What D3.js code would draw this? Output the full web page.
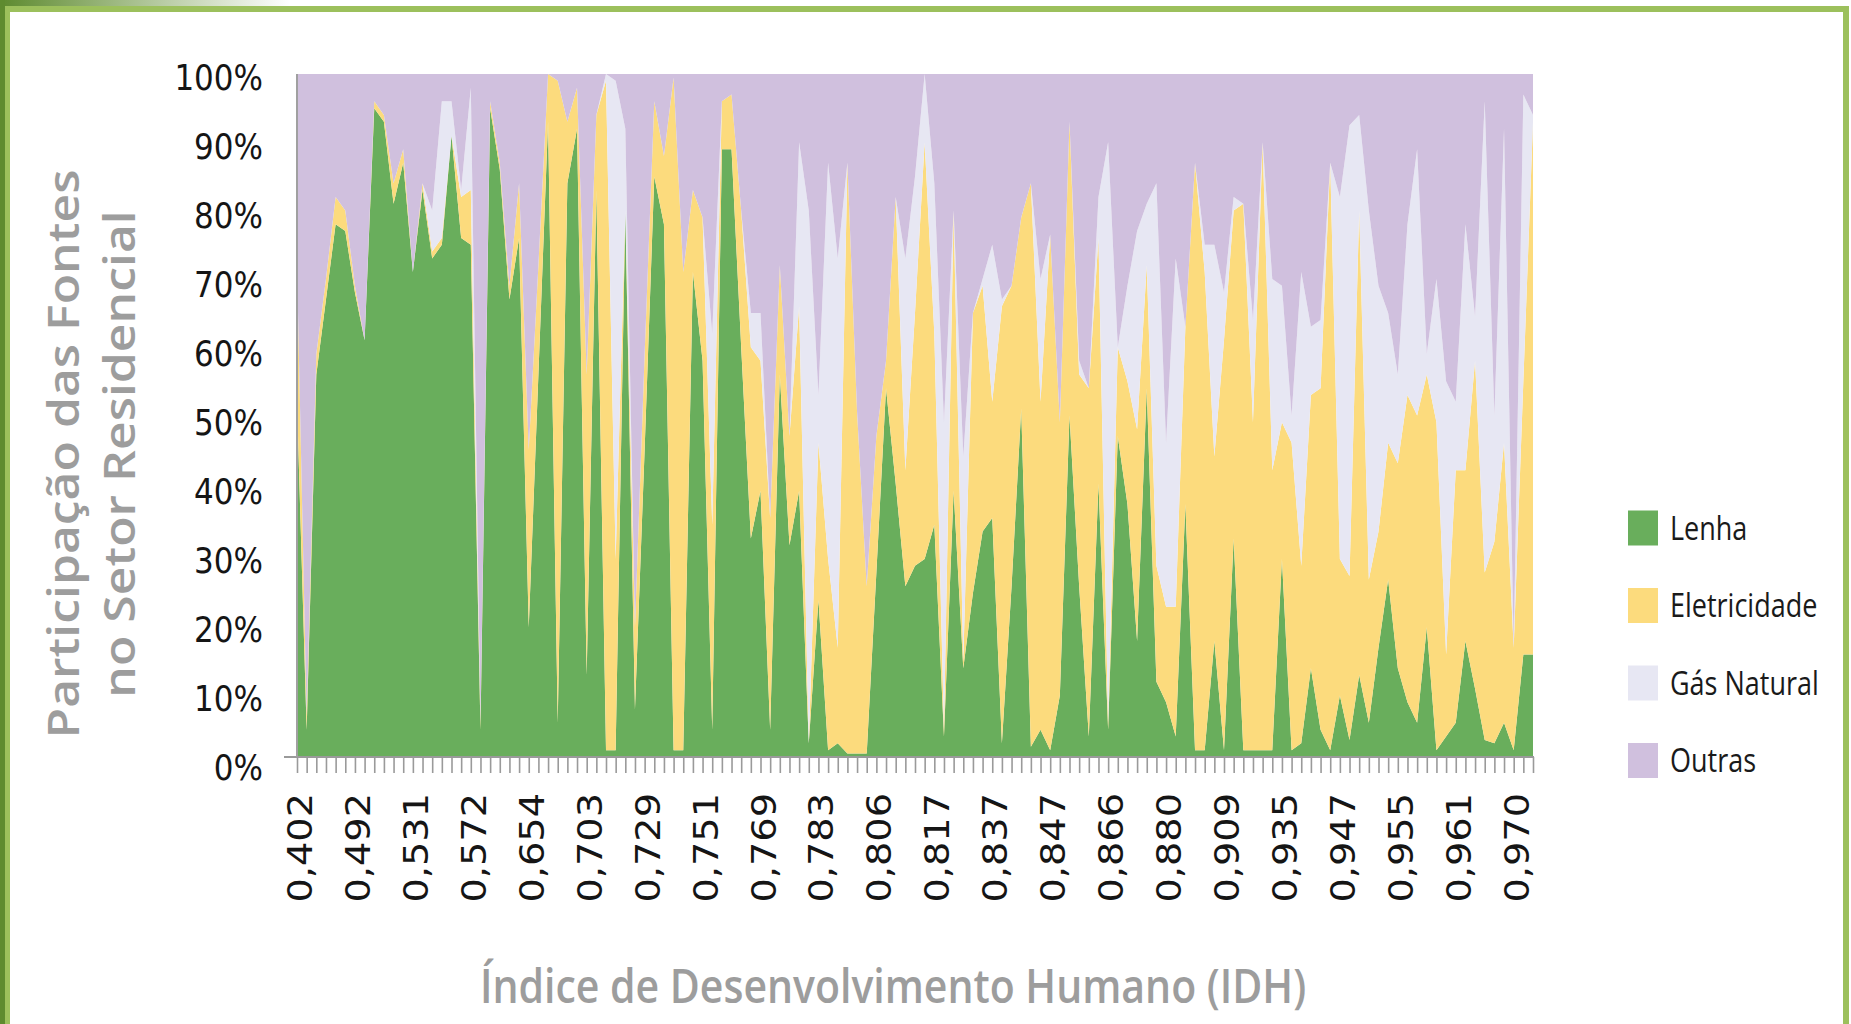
<!DOCTYPE html>
<html lang="pt">
<head>
<meta charset="utf-8">
<script src="https://cdn.jsdelivr.net/npm/d3@7"></script>
<style>
  body { margin: 0; background: #fff; }
  svg { display: block; }
</style>
</head>
<body>
<div id="chart"></div>
<script>
// Participação (%) de cada fonte no setor residencial, países ordenados pelo IDH
var lenha = [
  52, 4, 56, 67, 78, 77, 68, 61, 95, 93,
  81, 87, 71, 83, 73, 75, 91, 76, 75, 4,
  95, 86, 67, 76, 19, 56, 93, 5, 84, 92,
  12, 83, 1, 1, 80, 7, 45, 85, 78, 1,
  1, 71, 58, 4, 89, 89, 60, 32, 39, 4,
  56, 31, 39, 2, 23, 1, 2, 0.5, 0.5, 0.5,
  27, 54, 40, 25, 28, 29, 34, 3, 39, 13, 24,
  33, 35, 2, 25, 51, 1.5, 4, 1, 9, 50,
  25, 3, 40, 4, 47, 37, 17, 54, 11, 8,
  3, 37, 1, 1, 17, 1, 32, 1, 1, 1,
  1, 29, 1, 2, 13, 4, 1, 9, 2.5, 12,
  5, 16, 26, 13, 8, 5, 19, 1, 3,
  5, 17, 10, 2.5, 2, 5, 1, 15, 15
];
var eletricidade = [
  20, 2, 3, 3, 4, 3, 1, 0, 1, 1,
  3, 2, 0, 1, 1, 1, 0, 6, 8, 1,
  1, 1, 2, 8, 26, 16, 7, 94, 9, 6,
  44, 11, 98, 28, 0, 12, 14, 11, 10, 98.5,
  70, 12, 21, 30, 7, 8, 20, 28, 19, 31,
  16, 16, 27, 0, 23, 28, 14, 86.5, 50, 24.5,
  20, 4, 42, 17, 37, 61, 28, 1, 41, 1, 41,
  36, 17, 64, 44, 28, 82.5, 48, 75.5, 40, 43,
  31, 51, 36, 1, 13, 18, 31, 18, 17, 14,
  19, 26, 86, 70, 27, 60, 48, 80, 48, 89,
  41, 20, 45, 26, 40, 50, 86, 20, 24, 68,
  21, 17, 20, 30, 45, 45, 37, 48, 12,
  37, 25, 48, 24.5, 29.5, 41, 15, 40, 78
];
var gasNatural = [
  0, 0, 0, 0, 0, 0, 0, 0, 0, 0,
  0, 0, 0, 0, 6, 20, 5, 1, 15, 0,
  0, 0, 0, 0, 0, 0, 0, 0, 0, 0,
  0, 0, 1, 70, 12, 0, 0, 0, 0, 0,
  0, 0, 0, 28, 0, 0, 0, 5, 7, 0,
  0, 0, 24, 78, 7, 58, 57, 0, 0, 0,
  0, 0, 0, 31, 20, 10, 22, 45, 0, 30, 0,
  1, 23, 1, 0, 0, 0, 18, 0, 0, 0,
  2, 0, 6, 85, 0, 14, 29, 9, 56, 24,
  51, 0, 0, 4, 31, 7, 2, 0, 15, 0,
  28, 20, 4, 43, 10, 10, 0, 53, 66, 14,
  54, 36, 19, 13, 25, 39, 3, 21, 40,
  10, 36, 6.5, 69, 18.5, 46, 0, 42, 1
];

// rótulos do eixo x: um a cada 6 países
var idhLabels = ["0,402", "0,492", "0,531", "0,572", "0,654", "0,703", "0,729", "0,751",
  "0,769", "0,783", "0,806", "0,817", "0,837", "0,847", "0,866", "0,880",
  "0,909", "0,935", "0,947", "0,955", "0,961", "0,970"];
var labelStep = 6;

var series = ["Lenha", "Eletricidade", "Gás Natural", "Outras"];
var colors = ["#69ae5c", "#fcdb7d", "#e7e7f3", "#d0c0de"];
var yTicks = [0, 10, 20, 30, 40, 50, 60, 70, 80, 90, 100];

var svgWidth = 1851;
var svgHeight = 1024;
var margin = {top: 74, right: 318, bottom: 267, left: 297};
var width = svgWidth - margin.left - margin.right;
var height = svgHeight - margin.top - margin.bottom;
var stretch = 1.16; // o texto do original é um pouco esticado na vertical

var svg = d3.select("#chart")
  .append("svg")
  .attr("width", svgWidth)
  .attr("height", svgHeight);

// moldura verde
var defs = svg.append("defs");
var fade = defs.append("linearGradient").attr("id", "topFade").attr("x1", 0).attr("x2", 1);
fade.append("stop").attr("offset", 0).attr("stop-color", "#5d8a2e");
fade.append("stop").attr("offset", 1).attr("stop-color", "#ffffff");
svg.append("rect").attr("x", 0).attr("y", 0).attr("width", 290).attr("height", 6).attr("fill", "url(#topFade)");
svg.append("rect").attr("x", 0).attr("y", 6).attr("width", 1849).attr("height", 6).attr("fill", "#9cc05c");
svg.append("rect").attr("x", 0).attr("y", 0).attr("width", 5).attr("height", svgHeight).attr("fill", "#5e8b2f");
svg.append("rect").attr("x", 5).attr("y", 6).attr("width", 5).attr("height", svgHeight).attr("fill", "#9cc05c");
svg.append("rect").attr("x", 1843).attr("y", 6).attr("width", 6).attr("height", svgHeight).attr("fill", "#9cc05c");

var chartGroup = svg.append("g")
  .attr("transform", `translate(${margin.left}, ${margin.top})`);

// tabela empilhada (100%)
var rows = lenha.map(function(v, i) {
  return {
    i: i,
    "Lenha": v,
    "Eletricidade": eletricidade[i],
    "Gás Natural": gasNatural[i],
    "Outras": Math.max(0, 100 - v - eletricidade[i] - gasNatural[i])
  };
});
var layers = d3.stack().keys(series)(rows);

var xScale = d3.scalePoint()
  .domain(d3.range(rows.length))
  .range([0, width]);
var yScale = d3.scaleLinear()
  .domain([0, 100])
  .range([height, 0]);
// os rótulos do eixo y ficam um pouco abaixo das marcas no original
var yLabelScale = d3.scaleLinear()
  .domain([0, 100])
  .range([height + 10, 3]);

var area = d3.area()
  .x(d => xScale(d.data.i))
  .y0(d => yScale(d[0]))
  .y1(d => yScale(d[1]));

chartGroup.selectAll(".layer")
  .data(layers)
  .enter()
  .append("path")
  .attr("class", "layer")
  .attr("d", area)
  .attr("fill", (d, i) => colors[i]);

// eixo x
var bottomAxis = d3.axisBottom(xScale)
  .tickSize(16)
  .tickSizeOuter(0)
  .tickFormat(d => d % labelStep === 0 ? idhLabels[d / labelStep] : "");

var xAxisG = chartGroup.append("g")
  .attr("transform", `translate(0, ${height})`)
  .call(bottomAxis);
xAxisG.select(".domain").remove();
xAxisG.selectAll(".tick line")
  .attr("stroke", "#9a9a9a")
  .attr("stroke-width", 1.6);
xAxisG.selectAll(".tick text")
  .attr("x", 0)
  .attr("y", 0)
  .attr("dy", "0.35em")
  .attr("transform", `translate(3, 36) scale(1, ${stretch}) rotate(-90)`)
  .style("text-anchor", "end")
  .style("font-family", "'DejaVu Sans', Verdana, sans-serif")
  .style("font-size", "33px")
  .attr("fill", "#151515");

chartGroup.append("line")
  .attr("x1", -13).attr("x2", width + 1)
  .attr("y1", height).attr("y2", height)
  .attr("stroke", "#9a9a9a")
  .attr("stroke-width", 2);

// eixo y
chartGroup.append("line")
  .attr("x1", 0).attr("x2", 0)
  .attr("y1", 0).attr("y2", height)
  .attr("stroke", "#a0a0a0")
  .attr("stroke-width", 2);

chartGroup.selectAll(".ylabel")
  .data(yTicks)
  .enter()
  .append("text")
  .attr("class", "ylabel")
  .attr("transform", d => `translate(-34, ${yLabelScale(d)}) scale(1, ${stretch})`)
  .attr("dy", "0.36em")
  .style("text-anchor", "end")
  .style("font-family", "'DejaVu Sans', Verdana, sans-serif")
  .style("font-size", "31px")
  .attr("fill", "#151515")
  .text(d => d + "%");

// títulos dos eixos
var titleFont = "'Open Sans', 'Noto Sans', sans-serif";
svg.append("text")
  .attr("transform", `translate(67, 454) scale(1, ${stretch}) rotate(-90)`)
  .attr("dy", "0.28em")
  .style("text-anchor", "middle")
  .style("font-family", titleFont)
  .style("font-weight", 600)
  .style("font-size", "43px")
  .attr("fill", "#9d9d9d")
  .text("Participação das Fontes");

svg.append("text")
  .attr("transform", `translate(120, 454) scale(1, ${stretch}) rotate(-90)`)
  .attr("dy", "0.36em")
  .style("text-anchor", "middle")
  .style("font-family", titleFont)
  .style("font-weight", 600)
  .style("font-size", "43px")
  .attr("fill", "#9d9d9d")
  .text("no Setor Residencial");

svg.append("text")
  .attr("transform", `translate(893, 1003) scale(1, ${stretch})`)
  .style("text-anchor", "middle")
  .style("font-family", titleFont)
  .style("font-weight", 600)
  .style("font-size", "41px")
  .attr("fill", "#9d9d9d")
  .text("Índice de Desenvolvimento Humano (IDH)");

// legenda
var legend = svg.append("g")
  .attr("transform", "translate(1628, 528)");

var legendItem = legend.selectAll(".legend-item")
  .data(series)
  .enter()
  .append("g")
  .attr("class", "legend-item")
  .attr("transform", (d, i) => `translate(0, ${i * 77.5})`);

legendItem.append("rect")
  .attr("x", 0)
  .attr("y", -17.5)
  .attr("width", 30)
  .attr("height", 35)
  .attr("fill", (d, i) => colors[i]);

legendItem.append("text")
  .attr("transform", `translate(42, 0) scale(1, 1.2)`)
  .attr("dy", "0.36em")
  .style("font-family", titleFont)
  .style("font-size", "27px")
  .attr("fill", "#1a1a1a")
  .text(d => d);
</script>
</body>
</html>
